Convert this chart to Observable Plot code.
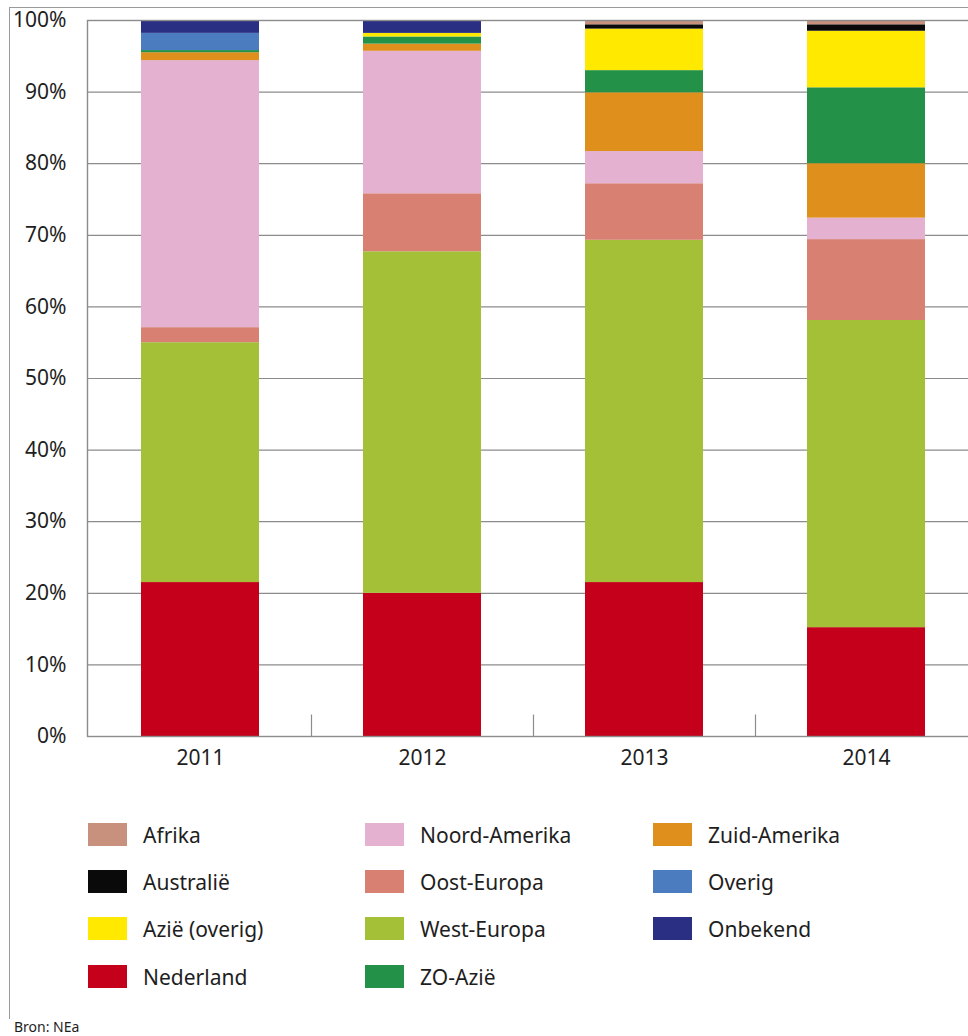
<!DOCTYPE html>
<html>
<head>
<meta charset="utf-8">
<script src="https://cdn.jsdelivr.net/npm/d3@7"></script>
<script src="https://cdn.jsdelivr.net/npm/@observablehq/plot@0.6"></script>
<style>
  html, body { margin: 0; padding: 0; background: #fff; overflow: hidden; }
  body { width: 968px; height: 1036px; position: relative; font-family: "Noto Sans", sans-serif; color: #1e1e1e; }
  #frame { position: absolute; left: 9px; top: 7px; width: 1000px; height: 1011px; border-left: 1.5px solid #9a9a9a; border-top: 1.5px solid #9a9a9a; }
  #chart { position: absolute; left: 0; top: 0; width: 990px; }
  #chart svg { max-width: none !important; width: 990px !important; height: 790px !important; }
  .lg { position: absolute; display: flex; align-items: center; font-size: 21px; height: 23px; white-space: nowrap; }
  .lg .sw { width: 39px; height: 23px; margin-right: 16px; flex: none; }
  #source { position: absolute; left: 14px; top: 1017px; font-size: 14px; }
</style>
</head>
<body>
<div id="frame"></div>
<div id="chart"></div>
<div id="legend"></div>
<div id="source">Bron: NEa</div>
<script>
// ---- data (percent of total per year) ----
const years = ["2011", "2012", "2013", "2014"];
const regions = ["Nederland", "West-Europa", "Oost-Europa", "Noord-Amerika", "Zuid-Amerika",
                 "ZO-Azië", "Azië (overig)", "Overig", "Australië", "Afrika", "Onbekend"];
const colors = ["#c4001a", "#a3c037", "#d88172", "#e4b2d0", "#de8f1c",
                "#249149", "#ffe900", "#4a7cbf", "#0a0a0a", "#c8917d", "#2b2f84"];
const nederland    = [21.5, 20.0, 21.5, 15.2];
const westEuropa   = [33.5, 47.7, 47.8, 42.9];
const oostEuropa   = [2.1, 8.1, 7.9, 11.3];
const noordAmerika = [37.3, 19.9, 4.5, 3.0];
const zuidAmerika  = [1.1, 1.0, 8.2, 7.6];
const zoAzie       = [0.3, 1.0, 3.1, 10.6];
const azieOverig   = [0, 0.5, 5.8, 7.9];
const overig       = [2.4, 0, 0, 0];
const australie    = [0, 0, 0.6, 0.9];
const afrika       = [0, 0, 0.6, 0.6];
const onbekend     = [1.8, 1.8, 0, 0];
const yTicks = [0, 10, 20, 30, 40, 50, 60, 70, 80, 90, 100];
// legend order (column-major, 3 columns)
const legendCols = [
  ["Afrika", "Australië", "Azië (overig)", "Nederland"],
  ["Noord-Amerika", "Oost-Europa", "West-Europa", "ZO-Azië"],
  ["Zuid-Amerika", "Overig", "Onbekend"]
];

const series = [nederland, westEuropa, oostEuropa, noordAmerika, zuidAmerika,
                zoAzie, azieOverig, overig, australie, afrika, onbekend];
const table = [];
years.forEach((y, i) => regions.forEach((r, j) => table.push({year: y, region: r, value: series[j][i]})));

const chart = Plot.plot({
  width: 990,
  height: 790,
  marginTop: 20,
  marginLeft: 87,
  marginRight: 0,
  marginBottom: 54,
  style: {fontFamily: "Noto Sans", fontSize: "21px", color: "#1e1e1e", background: "transparent", overflow: "visible", maxWidth: "none"},
  x: {domain: years, range: [89, 977], paddingInner: 0.4685, paddingOuter: 0.234, label: null},
  y: {domain: [0, 100], label: null},
  color: {domain: regions, range: colors},
  marks: [
    Plot.gridY(yTicks, {stroke: "#8c8c8c", strokeOpacity: 1, strokeWidth: 1.2}),
    Plot.barY(table, {x: "year", y: "value", fill: "region", order: regions}),
    Plot.frame({stroke: "#8c8c8c", strokeWidth: 1.4}),
    Plot.ruleX(years.slice(1), {x: d => d, y1: 0, y2: 3, dx: -111, stroke: "#8c8c8c", strokeWidth: 1.2}),
    Plot.axisY({ticks: yTicks, tickSize: 0, tickPadding: 21, tickFormat: d => d + "%", fontSize: 21, fill: "#1e1e1e", label: null}),
    Plot.axisX({tickSize: 0, tickPadding: 14, fontSize: 21, fill: "#1e1e1e", label: null})
  ]
});
document.getElementById("chart").appendChild(chart);

// ---- legend ----
const colOf = Object.fromEntries(regions.map((r, i) => [r, colors[i]]));
const colX = [88, 365, 653];
const rowY = [823, 870, 917, 965];
const legend = document.getElementById("legend");
legendCols.forEach((col, ci) => col.forEach((name, ri) => {
  const d = document.createElement("div");
  d.className = "lg";
  d.style.left = colX[ci] + "px";
  d.style.top = rowY[ri] + "px";
  d.innerHTML = `<span class="sw" style="background:${colOf[name]}"></span><span>${name}</span>`;
  legend.appendChild(d);
}));
</script>
</body>
</html>
